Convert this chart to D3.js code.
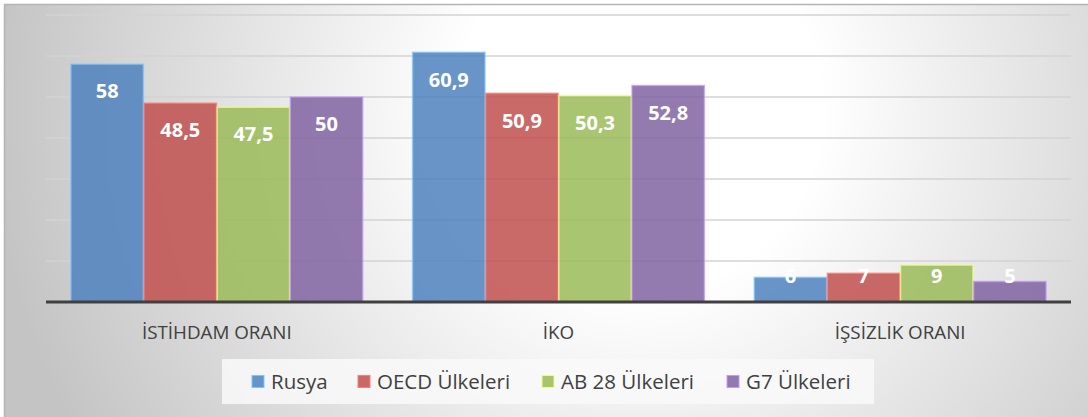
<!DOCTYPE html>
<html>
<head>
<meta charset="utf-8">
<script src="https://cdn.jsdelivr.net/npm/d3@7"></script>
<style>
  body { margin: 0; background: #fff; }
  svg { display: block; font-family: "Open Sans", sans-serif; }
</style>
</head>
<body>
<div id="chart"></div>
<script>
// chart data
var categories = ["İSTİHDAM ORANI", "İKO", "İŞSİZLİK ORANI"];
var seriesNames = ["Rusya", "OECD Ülkeleri", "AB 28 Ülkeleri", "G7 Ülkeleri"];
var rusya = [58, 60.9, 6];
var oecd = [48.5, 50.9, 7];
var ab28 = [47.5, 50.3, 9];
var g7 = [50, 52.8, 5];
var yTicks = [0, 10, 20, 30, 40, 50, 60, 70];

var colors = ["#4F81BD", "#C0504D", "#9BBB59", "#8064A2"];
var seriesValues = [rusya, oecd, ab28, g7];

var width = 1088, height = 417;
var margin = { left: 46, right: 17, top: 15, bottom: 115 };

var svg = d3.select("#chart").append("svg")
  .attr("width", width)
  .attr("height", height);

// background gradient
var defs = svg.append("defs");
var grad = defs.append("radialGradient")
  .attr("id", "bg")
  .attr("gradientUnits", "userSpaceOnUse")
  .attr("cx", 640).attr("cy", 110).attr("r", 650);
grad.append("stop").attr("offset", "0").attr("stop-color", "#ffffff");
grad.append("stop").attr("offset", "0.28").attr("stop-color", "#ffffff");
grad.append("stop").attr("offset", "1").attr("stop-color", "#c4c4c4");

svg.append("rect")
  .attr("x", 4.5).attr("y", 4.5)
  .attr("width", width).attr("height", height)
  .attr("fill", "url(#bg)")
  .attr("stroke", "#b4b4b4")
  .attr("stroke-width", 1.5);

var x0 = d3.scaleBand()
  .domain(categories)
  .range([margin.left, width - margin.right])
  .paddingInner(0.146)
  .paddingOuter(0.073);

var x1 = d3.scaleBand()
  .domain(seriesNames)
  .range([0, x0.bandwidth()])
  .paddingInner(0.01);

var y = d3.scaleLinear()
  .domain([0, 70])
  .range([height - margin.bottom, margin.top]);

// gridlines
svg.append("g")
  .selectAll("line")
  .data(yTicks.slice(1))
  .join("line")
  .attr("x1", margin.left)
  .attr("x2", width - margin.right)
  .attr("y1", function (d) { return y(d); })
  .attr("y2", function (d) { return y(d); })
  .attr("stroke", "#d3d3d3")
  .attr("stroke-width", 1.5);

// bars
var groups = svg.append("g")
  .selectAll("g")
  .data(categories)
  .join("g")
  .attr("transform", function (d) { return "translate(" + x0(d) + ",0)"; });

groups.selectAll("rect")
  .data(function (d, i) {
    return seriesNames.map(function (s, j) {
      return { series: s, value: seriesValues[j][i], color: colors[j] };
    });
  })
  .join("rect")
  .attr("x", function (d) { return x1(d.series); })
  .attr("y", function (d) { return y(d.value); })
  .attr("width", x1.bandwidth())
  .attr("height", function (d) { return y(0) - y(d.value); })
  .attr("fill", function (d) { return d.color; })
  .attr("fill-opacity", 0.85)
  .attr("stroke", function (d) { return d3.color(d.color).brighter(1.2); })
  .attr("stroke-opacity", 0.7)
  .attr("stroke-width", 1.5);

// value labels, kept inside short bars
groups.selectAll("text")
  .data(function (d, i) {
    return seriesNames.map(function (s, j) {
      return { series: s, value: seriesValues[j][i] };
    });
  })
  .join("text")
  .attr("x", function (d) { return x1(d.series) + x1.bandwidth() / 2; })
  .attr("y", function (d) { return Math.min(y(d.value) + 27, y(0) - 26); })
  .attr("dy", "0.36em")
  .attr("text-anchor", "middle")
  .attr("fill", "#fff")
  .attr("font-weight", "bold")
  .attr("font-size", 20)
  .text(function (d) { return String(d.value).replace(".", ","); });

// baseline
svg.append("line")
  .attr("x1", margin.left)
  .attr("x2", width - margin.right)
  .attr("y1", y(0))
  .attr("y2", y(0))
  .attr("stroke", "#404040")
  .attr("stroke-width", 3);

// category axis
var xAxis = svg.append("g")
  .attr("transform", "translate(0," + y(0) + ")")
  .call(d3.axisBottom(x0).tickSize(0).tickPadding(0));
xAxis.select(".domain").remove();
xAxis.selectAll("text")
  .attr("y", 30)
  .attr("dy", "0.36em")
  .attr("font-family", "Open Sans, sans-serif")
  .attr("font-size", 18.8)
  .attr("fill", "#404040");

// legend
svg.append("rect")
  .attr("x", 222).attr("y", 359)
  .attr("width", 652).attr("height", 45)
  .attr("fill", "#f9f9f9")
  .attr("fill-opacity", 0.85);

var legendX = [252, 358, 542, 727];
var legend = svg.append("g")
  .selectAll("g")
  .data(seriesNames)
  .join("g")
  .attr("transform", function (d, i) { return "translate(" + legendX[i] + ",381.5)"; });

legend.append("rect")
  .attr("x", 0).attr("y", -6)
  .attr("width", 12).attr("height", 12)
  .attr("fill", function (d, i) { return colors[i]; })
  .attr("fill-opacity", 0.85)
  .attr("stroke", function (d, i) { return d3.color(colors[i]).brighter(1.2); })
  .attr("stroke-width", 1);

legend.append("text")
  .attr("x", 19)
  .attr("dy", "0.36em")
  .attr("font-size", 20.5)
  .attr("fill", "#404040")
  .text(function (d) { return d; });
</script>
</body>
</html>
